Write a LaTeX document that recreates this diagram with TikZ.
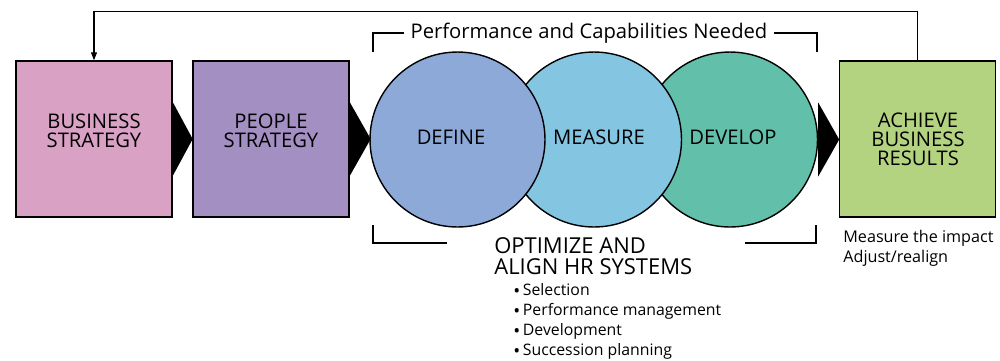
\documentclass[tikz,border=0pt]{standalone}
\usepackage{fontspec}
\setmainfont{Open Sans}
\usetikzlibrary{arrows.meta}

\definecolor{bizpink}{HTML}{D9A2C5}
\definecolor{pplpurple}{HTML}{A38FC1}
\definecolor{defblue}{HTML}{8CA9D8}
\definecolor{measblue}{HTML}{84C5E2}
\definecolor{devgreen}{HTML}{62C0AA}
\definecolor{achgreen}{HTML}{B4D381}

\newcommand{\bul}{\raisebox{-0.25ex}{\fontsize{10.5}{11}\selectfont\textbullet}\,}

\begin{document}
\begin{tikzpicture}[x=0.02cm, y=-0.02cm,
    box/.style={draw, line width=0.8pt, minimum size=3.12cm, inner sep=0pt},
    circ/.style={circle, draw, line width=0.8pt, minimum size=3.5cm, inner sep=0pt},
    boxtext/.style={align=center, inner sep=0pt, font=\fontsize{11.5}{10.8}\selectfont},
    brk/.style={line width=0.7pt},
    fb/.style={line width=0.6pt, -{Triangle[length=1.6mm, width=1.2mm]}}]
    \useasboundingbox (0,0) rectangle (1000,360);

    % the boxes
    \node[box, fill=bizpink] (bus) at (94, 139) {};
    \node[box, fill=pplpurple] (ppl) at (271, 139) {};
    \node[box, fill=achgreen] (ach) at (917.5, 139) {};

    \node[boxtext] (busT) at (94, 131) {BUSINESS\\STRATEGY};
    \node[boxtext] (pplT) at (271, 131) {PEOPLE\\STRATEGY};
    \node[boxtext] (achT) at (918, 139.5) {ACHIEVE\\BUSINESS\\RESULTS};

    % the circles, back to front
    \node[circ, fill=devgreen] (dev) at (730, 139.5) {};
    \node[circ, fill=measblue] (mea) at (594, 139.5) {};
    \node[circ, fill=defblue] (def) at (457.5, 139.5) {};

    \node[boxtext] (defT) at (451, 137) {DEFINE};
    \node[boxtext] (meaT) at (599, 137) {MEASURE};
    \node[boxtext] (devT) at (733, 137) {DEVELOP};

    % chevrons
    \fill (bus.east) ++(0, -37) -- ++(20, 37) -- ++(-20, 37) -- cycle;
    \fill (ppl.east) ++(0, -37) -- ++(21, 37) -- ++(-21, 37) -- cycle;
    \fill (dev.east) ++(0, -37) -- ++(21, 37) -- ++(-21, 37) -- cycle;

    % feedback
    \draw[fb] (ach.north) -- ++(0, -49) -| (bus.north);

    % top bracket
    \coordinate (tl) at (373, 52);
    \coordinate (tr) at (817, 52);
    \node[inner xsep=0.12cm, inner ysep=0pt, font=\fontsize{11.5}{12}\selectfont] (perf) at (589, 33) {Performance and Capabilities Needed};
    \draw[brk] (tl) |- (perf.west);
    \draw[brk] (perf.east) -| (tr);

    % bottom bracket
    \coordinate (bl) at (373, 225);
    \coordinate (blE) at (447, 243);
    \coordinate (br) at (816, 225);
    \coordinate (brE) at (745, 243);
    \draw[brk] (bl) |- (blE);
    \draw[brk] (br) |- (brE);

    \node[anchor=north west, align=left, inner sep=0pt, font=\fontsize{12.5}{12}\selectfont] (opt) at (494, 237) {OPTIMIZE AND\\ALIGN HR SYSTEMS};
    \node[anchor=north west, align=left, inner sep=0pt, font=\fontsize{9}{11.4}\selectfont] (lst) at (513, 283) {\bul Selection\\\bul Performance management\\\bul Development\\\bul Succession planning};

    \node[anchor=north west, align=left, inner sep=0pt, font=\fontsize{9.2}{11.4}\selectfont] (imp) at (843, 230) {Measure the impact\\Adjust/realign};
\end{tikzpicture}
\end{document}
